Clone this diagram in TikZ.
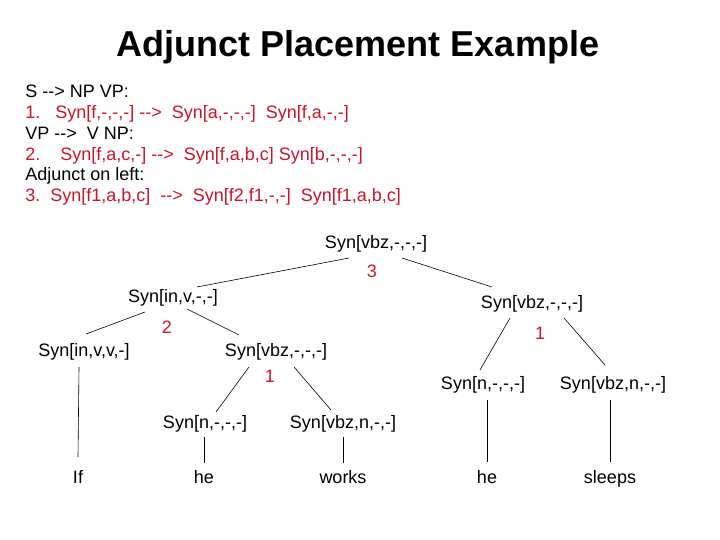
\documentclass[tikz,border=0pt]{standalone}
\usepackage{fontspec}
\setmainfont{Liberation Sans}
\usepackage{tikz}
\usetikzlibrary{calc}

\definecolor{rulered}{RGB}{204,20,40}
\newcommand{\arr}{-{}->}

\begin{document}
\begin{tikzpicture}[x=1pt, y=-1pt, line width=0.6pt,
  titel/.style={font=\fontsize{36}{40}\selectfont\bfseries, anchor=base},
  regel/.style={font=\fontsize{18}{21}\selectfont, anchor=base west, inner sep=0pt},
  syn/.style={font=\fontsize{18}{21}\selectfont, inner sep=0pt},
  blad/.style={font=\fontsize{18}{21}\selectfont, anchor=base, inner sep=0pt},
  nr/.style={font=\fontsize{18}{21}\selectfont, text=rulered, inner sep=0pt}]

  \useasboundingbox (0,0) rectangle (720,540);

  \node[titel] (title) at (358,57) {Adjunct Placement Example};

  % rules
  \node[regel] (r1) at (25,98)    {S \arr{} NP VP:};
  \node[regel, text=rulered] (r2) at (25,118.7)
    {1.~~~Syn[f,-,-,-] \arr{}~~Syn[a,-,-,-]~~Syn[f,a,-,-]};
  \node[regel] (r3) at (25,139.4) {VP \arr{}~~V NP:};
  \node[regel, text=rulered] (r4) at (25,160.1)
    {2.~~~~Syn[f,a,c,-] \arr{}~~Syn[f,a,b,c] Syn[b,-,-,-]};
  \node[regel] (r5) at (25,180.8) {Adjunct on left:};
  \node[regel, text=rulered] (r6) at (25,201.5)
    {3.~~Syn[f1,a,b,c]~~\arr{}~~Syn[f2,f1,-,-]~~Syn[f1,a,b,c]};

  % tree
  \node[syn] (root)  at (376,244) {Syn[vbz,-,-,-]};
  \node[syn] (inv)   at (173,298) {Syn[in,v,-,-]};
  \node[syn] (vbzR)  at (532,304) {Syn[vbz,-,-,-]};
  \node[syn] (invv)  at (84,352)  {Syn[in,v,v,-]};
  \node[syn] (vbzM)  at (276,352) {Syn[vbz,-,-,-]};
  \node[syn] (nR)    at (483,385) {Syn[n,-,-,-]};
  \node[syn] (vbznR) at (613,385) {Syn[vbz,n,-,-]};
  \node[syn] (nM)    at (205,424) {Syn[n,-,-,-]};
  \node[syn] (vbznM) at (343,424) {Syn[vbz,n,-,-]};

  \node[nr] (n3)  at (372,271) {3};
  \node[nr] (n2)  at (167,327) {2};
  \node[nr] (n1R) at (540,333) {1};
  \node[nr] (n1M) at (270,376) {1};

  \node[blad] (if)     at (78,483)  {If};
  \node[blad] (heM)    at (204,483) {he};
  \node[blad] (works)  at (343,483) {works};
  \node[blad] (heR)    at (487,483) {he};
  \node[blad] (sleeps) at (610,483) {sleeps};

  \draw ([shift={(-27,14)}]root.center) -- ([shift={(24,-11)}]inv.center);
  \draw ([shift={(26,14)}]root.center)  -- ([shift={(-40,-17)}]vbzR.center);
  \draw ([shift={(-28,14)}]inv.center)  -- ([shift={(2,-18)}]invv.center);
  \draw ([shift={(14,11)}]inv.center)   -- ([shift={(-37,-17)}]vbzM.center);
  \draw ([shift={(-22,14)}]vbzR.center) -- ([shift={(-3,-15)}]nR.center);
  \draw ([shift={(32,14)}]vbzR.center)  -- ([shift={(-8,-20)}]vbznR.center);
  \draw ([shift={(-27,15)}]vbzM.center) -- ([shift={(11,-12)}]nM.center);
  \draw ([shift={(18,15)}]vbzM.center)  -- ([shift={(-12,-14)}]vbznM.center);

  \draw ([shift={(-5,15)}]invv.center)  -- ([shift={(0,-26)}]if.base);
  \draw ([shift={(-1,13)}]nM.center)    -- ([shift={(0,-20)}]heM.base);
  \draw ([shift={(0,13)}]vbznM.center)  -- ([shift={(0,-20)}]works.base);
  \draw ([shift={(4,15)}]nR.center)     -- ([shift={(0,-21)}]heR.base);
  \draw ([shift={(-3,15)}]vbznR.center) -- ([shift={(0,-21)}]sleeps.base);
\end{tikzpicture}
\end{document}
